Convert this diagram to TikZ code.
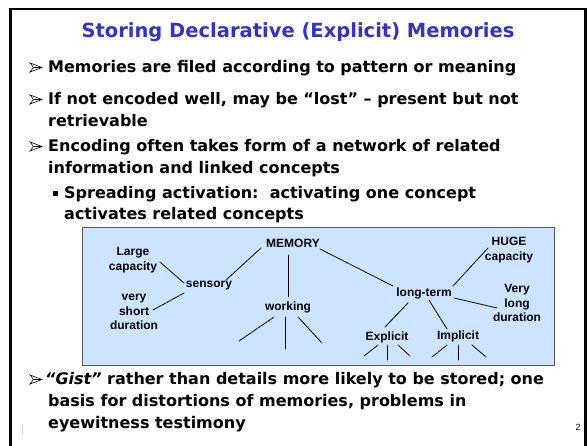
\documentclass[tikz,border=0pt]{standalone}
\usepackage{fontspec}
\setmainfont{DejaVu Sans}
\newfontfamily\arialfont{Liberation Sans}
\definecolor{titleblue}{RGB}{51,51,204}
\definecolor{boxfill}{RGB}{204,228,255}
\definecolor{boxline}{RGB}{90,90,90}
\tikzset{
  barrow/.pic={
    \draw[line width=0.6pt, line join=miter] (0,0) -- (12,4.5) -- (0,9) -- (3.5,4.5) -- cycle;
    \draw[line width=0.5pt] (3.5,4.5) -- (12,4.5);
  }
}
\begin{document}
\begin{tikzpicture}[x=1pt,y=-1pt,
  body/.style={anchor=base west, inner sep=0pt, font=\fontsize{16}{19}\selectfont\bfseries},
  lbl/.style={inner sep=1pt, align=center, font=\arialfont\bfseries\fontsize{12}{14.5}\selectfont},
  conn/.style={line width=0.8pt, line cap=round}
  ]
\useasboundingbox (0,0) rectangle (588,445);
\clip (0,0) rectangle (588,445);
\fill[white] (0,0) rectangle (588,445);
% slide frame
\draw[line width=2.5pt] (10.5,9) rectangle (585.5,470);

% title
\node[anchor=base, inner sep=0pt, text=titleblue, font=\fontsize{19.5}{22}\selectfont\bfseries] (title) at (298,37) {Storing Declarative (Explicit) Memories};

% bullets
\pic at (30,63) {barrow};
\node[body] (b1) at (48,72) {Memories are filed according to pattern or meaning};
\pic at (30,95) {barrow};
\node[body] (b2) at (48,104) {If not encoded well, may be “lost” – present but not};
\node[body] (b2b) at (48,126) {retrievable};
\pic at (30,142) {barrow};
\node[body] (b3) at (48,151) {Encoding often takes form of a network of related};
\node[body] (b3b) at (48,173) {information and linked concepts};
\fill (53,191) rectangle (57.5,195.5);
\node[body] (s1) at (64,198) {Spreading activation:\ \ activating one concept};
\node[body] (s1b) at (64,219) {activates related concepts};

% diagram box
\fill[boxfill] (82,227) rectangle (554,365);
\draw[boxline, line width=0.7pt] (82,227) rectangle (554,365);

% diagram nodes
\node[lbl] (mem)    at (293,243) {MEMORY};
\node[lbl] (large)  at (133,260) {Large\\capacity};
\node[lbl] (sens)   at (209,286) {sensory};
\node[lbl] (vshort) at (134,312) {very\\short\\duration};
\node[lbl] (work)   at (288,307) {working};
\node[lbl] (lt)     at (424,293) {long-term};
\node[lbl] (huge)   at (509,250) {HUGE\\capacity};
\node[lbl] (vlong)  at (517,303) {Very\\long\\duration};
\node[lbl] (expl)   at (387,337) {Explicit};
\node[lbl] (impl)   at (458,336) {Implicit};

% free ends
\coordinate (w1) at (239,341);
\coordinate (w2) at (285,349);
\coordinate (w3) at (322,343);
\coordinate (e1) at (364,356);
\coordinate (e2) at (387,360);
\coordinate (e3) at (410,356);
\coordinate (i1) at (432,357);
\coordinate (i2) at (458,360);
\coordinate (i3) at (486,357);

% connectors
\draw[conn] ([shift={(27,2)}]large.center) -- ([shift={(-25,-3)}]sens.center);
\draw[conn] ([shift={(19,-2)}]vshort.center) -- ([shift={(-25,7)}]sens.center);
\draw[conn] ([shift={(17,-6)}]sens.center) -- ([shift={(-32,5)}]mem.center);
\draw[conn] ([shift={(-5,12)}]mem.center) -- ([shift={(0,-10)}]work.center);
\draw[conn] ([shift={(27,6)}]mem.center) -- ([shift={(-31,-7)}]lt.center);
\draw[conn] ([shift={(-21,-2)}]huge.center) -- ([shift={(29,-7)}]lt.center);
\draw[conn] ([shift={(30,5)}]lt.center) -- ([shift={(-20,5)}]vlong.center);
\draw[conn] ([shift={(-16,10)}]lt.center) -- ([shift={(-2,-10)}]expl.center);
\draw[conn] ([shift={(5,7)}]lt.center) -- ([shift={(-11,-7)}]impl.center);
\draw[conn] ([shift={(-14,10)}]work.center) -- (w1);
\draw[conn] ([shift={(-3,10)}]work.center) -- (w2);
\draw[conn] ([shift={(10,10)}]work.center) -- (w3);
\draw[conn] ([shift={(-9,8)}]expl.center) -- (e1);
\draw[conn] ([shift={(0,8)}]expl.center) -- (e2);
\draw[conn] ([shift={(11,8)}]expl.center) -- (e3);
\draw[conn] ([shift={(-11,9)}]impl.center) -- (i1);
\draw[conn] ([shift={(0,9)}]impl.center) -- (i2);
\draw[conn] ([shift={(14,9)}]impl.center) -- (i3);

% last bullet
\pic at (30,375) {barrow};
\node[body] (g1) at (45,384) {{\itshape “Gist”} rather than details more likely to be stored; one};
\node[body] (g2) at (48,406) {basis for distortions of memories, problems in};
\node[body] (g3) at (48,428) {eyewitness testimony};

% page number and mark
\node[anchor=base, inner sep=0pt, font=\arialfont\fontsize{9}{10}\selectfont] (pg) at (578,430) {2};
\draw[gray!40, line width=0.6pt] (22,424) -- (22,434);
\end{tikzpicture}
\end{document}
